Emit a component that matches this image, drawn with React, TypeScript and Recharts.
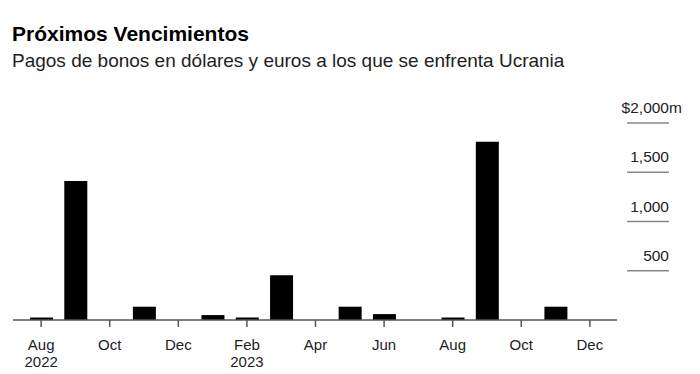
import { BarChart, Bar, XAxis, YAxis } from 'recharts'

const MONTHS = ['Aug', 'Sep', 'Oct', 'Nov', 'Dec', 'Jan', 'Feb', 'Mar', 'Apr', 'May', 'Jun', 'Jul', 'Aug', 'Sep', 'Oct', 'Nov', 'Dec']
const YEARS = ['2022', '', '', '', '', '', '2023', '', '', '', '', '', '', '', '', '', '']
const PAYMENTS = [25, 1410, 0, 135, 0, 50, 25, 455, 0, 135, 60, 0, 25, 1810, 0, 135, 0]
const Y_TICKS = [500, 1000, 1500, 2000]

const chartData = MONTHS.map((m, i) => ({
  key: `${m}-${i}`,
  month: m,
  year: YEARS[i],
  value: PAYMENTS[i],
}))

const FONT = '"Liberation Sans", Arial, sans-serif'

function MonthTick(props: any) {
  const { x, y, payload } = props
  const row = chartData[payload.index]
  return (
    <g>
      <text x={x} y={y + 21} textAnchor="middle" fontSize={15} fill="#222" fontFamily={FONT}>
        {row.month}
      </text>
      {row.year && (
        <text x={x} y={y + 38} textAnchor="middle" fontSize={15} fill="#222" fontFamily={FONT}>
          {row.year}
        </text>
      )}
    </g>
  )
}

function ValueTick(props: any) {
  const { x, y, payload } = props
  const label = payload.value.toLocaleString('en-US')
  const left = x + 2
  const right = x + 44
  return (
    <g>
      <line x1={left} x2={right} y1={y} y2={y} stroke="#888" strokeWidth={1.5} />
      <text x={right} y={y - 10} textAnchor="end" fontSize={15.5} fill="#222" fontFamily={FONT}>
        {payload.value === 2000 ? '$' + label : label}
      </text>
      {payload.value === 2000 && (
        <text x={right} y={y - 10} textAnchor="start" fontSize={15.5} fill="#222" fontFamily={FONT}>
          m
        </text>
      )}
    </g>
  )
}

export default function App() {
  return (
    <div style={{ position: 'absolute', left: 0, top: 0, width: 700, height: 374, background: '#fff', fontFamily: FONT }}>
      <div style={{ position: 'absolute', left: 12, top: 22, fontSize: 21, fontWeight: 700, color: '#000' }}>
        Próximos Vencimientos
      </div>
      <div style={{ position: 'absolute', left: 12, top: 50, fontSize: 19, color: '#222' }}>
        Pagos de bonos en dólares y euros a los que se enfrenta Ucrania
      </div>
      <div style={{ position: 'absolute', left: 0, top: 0 }}>
        <BarChart width={700} height={374} data={chartData} margin={{ top: 123, right: 0, bottom: 0, left: 13 }}>
          <XAxis
            dataKey="key"
            interval={1}
            height={54}
            padding={{ left: 11, right: 10 }}
            axisLine={{ stroke: '#555', strokeWidth: 1.5 }}
            tickLine={{ stroke: '#555', strokeWidth: 1.5 }}
            tickSize={7}
            tick={<MonthTick />}
          />
          <YAxis
            orientation="right"
            width={83}
            domain={[0, 2000]}
            ticks={Y_TICKS}
            axisLine={false}
            tickLine={false}
            tick={<ValueTick />}
          />
          <Bar dataKey="value" fill="#000" barSize={23} isAnimationActive={false} />
        </BarChart>
      </div>
    </div>
  )
}
